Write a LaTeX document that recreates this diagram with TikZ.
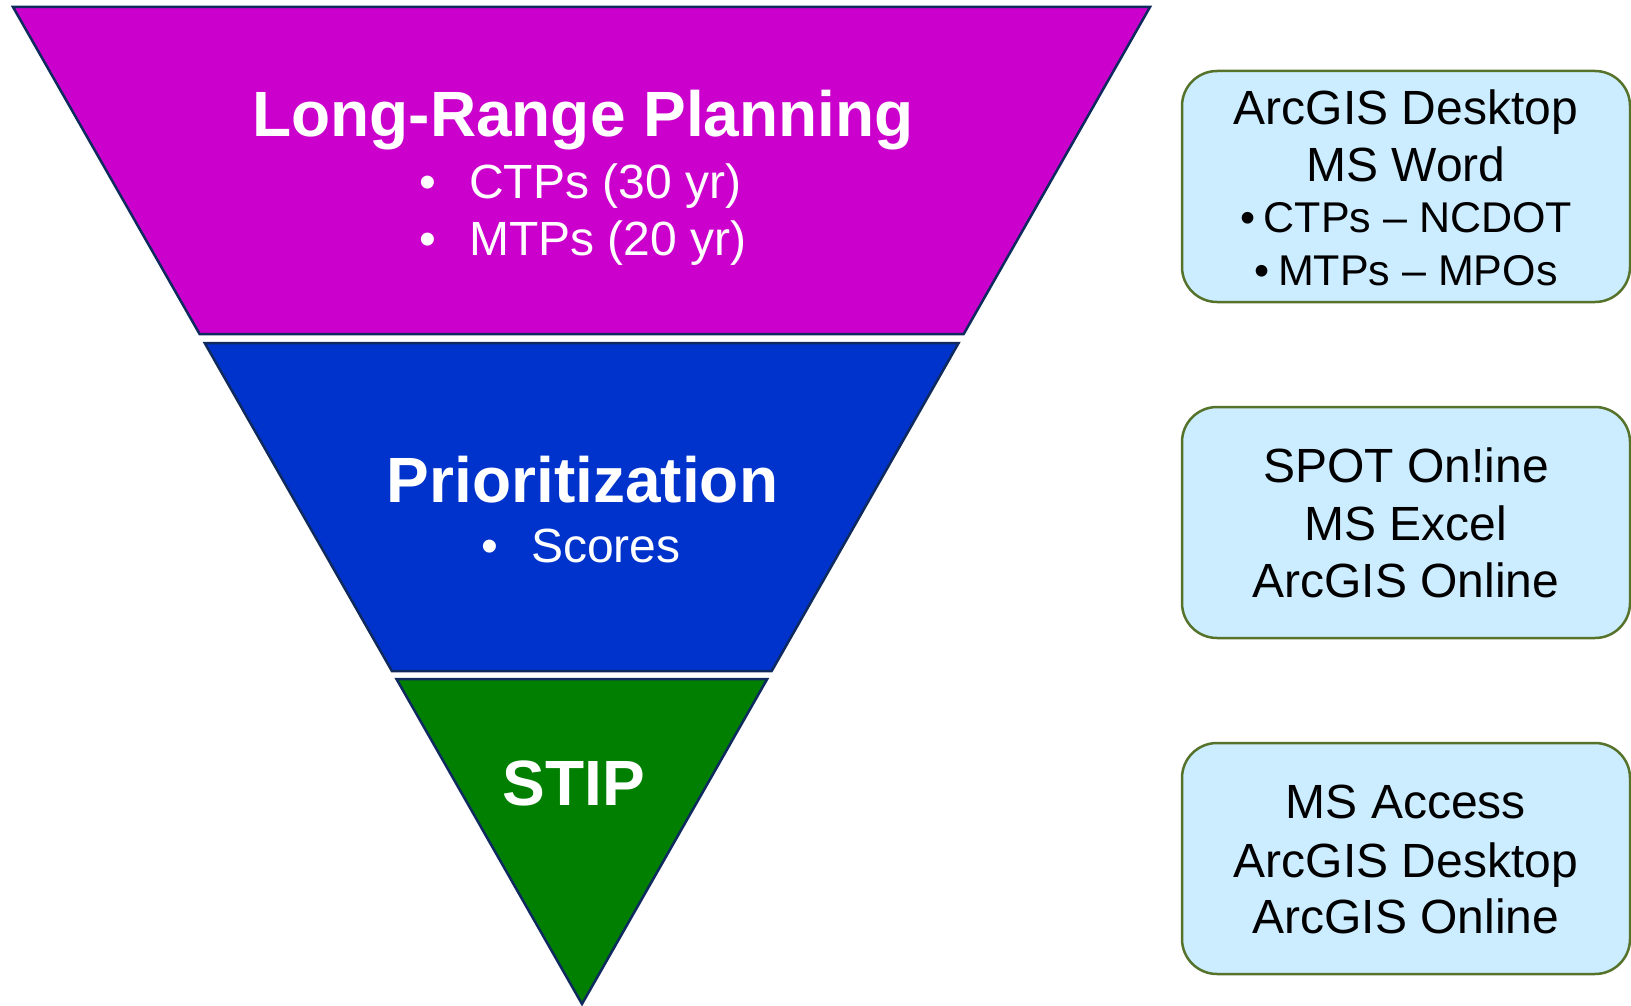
\documentclass[tikz,border=0pt]{standalone}
\usepackage{fontspec}
\setmainfont{Liberation Sans}
\definecolor{navyline}{HTML}{0E2A5E}
\definecolor{tmag}{HTML}{CC00CC}
\definecolor{tblue}{HTML}{0033CC}
\definecolor{tgreen}{HTML}{007F00}
\definecolor{toolfill}{HTML}{CCECFF}
\definecolor{toolline}{HTML}{56732B}
\tikzset{
  tier/.style={draw=navyline, line width=2.5pt, line join=miter},
  title/.style={text=white, font=\fontsize{64}{64}\selectfont\bfseries, anchor=base, inner sep=0pt},
  item/.style={text=white, font=\fontsize{48}{48}\selectfont, anchor=base west, inner sep=0pt},
  dot/.style={text=white, font=\fontsize{48}{48}\selectfont, anchor=base, inner sep=0pt},
  toolbox/.style={rounded corners=35pt, fill=toolfill, draw=toolline, line width=2.5pt},
  toolbig/.style={font=\fontsize{48}{48}\selectfont, anchor=base, inner sep=0pt},
  toolsmall/.style={font=\fontsize{43}{43}\selectfont, anchor=base, inner sep=0pt}
}
\begin{document}
\begin{tikzpicture}[x=1pt,y=-1pt]
\useasboundingbox (0,0) rectangle (1631,1006);
% funnel tiers
\draw[tier, fill=tmag] (13,7) -- (1150,7) -- (963.7,334) -- (199.6,334) -- cycle;
\draw[tier, fill=tblue] (204.7,343) -- (958.6,343) -- (771.7,671) -- (391.9,671) -- cycle;
\draw[tier, fill=tgreen] (396.5,679) -- (767.2,679) -- (582,1004) -- cycle;
% tier texts
\node[title] (lrp) at (583,137) {Long-Range Planning};
\node[dot] (b1) at (428,198) {•};
\node[item] (ctp) at (469,198) {CTPs (30 yr)};
\node[dot] (b2) at (428,255) {•};
\node[item] (mtp) at (469,255) {MTPs (20 yr)};
\node[title] (prio) at (582.5,502) {Prioritization};
\node[dot] (b3) at (490,562) {•};
\node[item] (sco) at (531,562) {Scores};
\node[title] (stip) at (574,805) {STIP};
% tool boxes
\draw[toolbox] (1182,71) rectangle (1630,302);
\draw[toolbox] (1182,407) rectangle (1630,638);
\draw[toolbox] (1182,743) rectangle (1630,974);
\node[toolbig] (t1a) at (1406,125) {ArcGIS Desktop};
\node[toolbig] (t1b) at (1406,182) {MS Word};
\node[toolsmall] (t1c) at (1406,233) {•\hspace{0.2em}CTPs – NCDOT};
\node[toolsmall] (t1d) at (1406,285) {•\hspace{0.2em}MTPs – MPOs};
\node[toolbig] (t2a) at (1406,482) {SPOT On!ine};
\node[toolbig] (t2b) at (1406,540) {MS Excel};
\node[toolbig] (t2c) at (1406,597) {ArcGIS Online};
\node[toolbig] (t3a) at (1406,818) {MS Access};
\node[toolbig] (t3b) at (1406,877) {ArcGIS Desktop};
\node[toolbig] (t3c) at (1406,933) {ArcGIS Online};
\end{tikzpicture}
\end{document}
